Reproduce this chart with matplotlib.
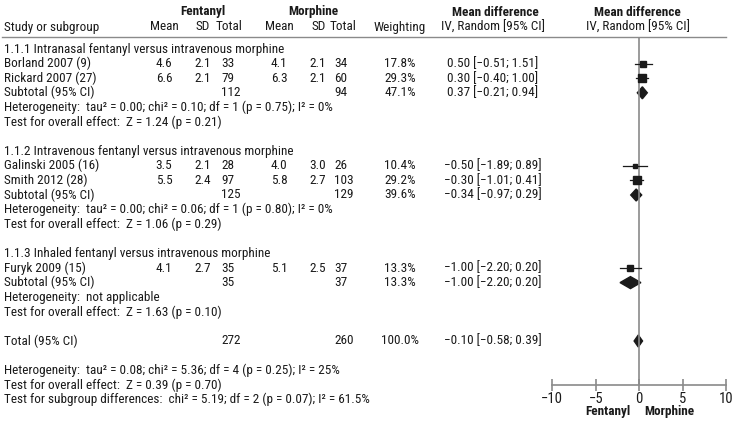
import matplotlib
matplotlib.use("Agg")
import matplotlib.pyplot as plt
from matplotlib import font_manager
from matplotlib.patches import Polygon

# 数据
studies = ['Borland 2007 (9)', 'Rickard 2007 (27)', 'Galinski 2005 (16)',
           'Smith 2012 (28)', 'Furyk 2009 (15)']
study_group = [0, 0, 1, 1, 2]
fent_mean = [4.6, 6.6, 3.5, 5.5, 4.1]
fent_sd = [2.1, 2.1, 2.1, 2.4, 2.7]
fent_n = [33, 79, 28, 97, 35]
morph_mean = [4.1, 6.3, 4.0, 5.8, 5.1]
morph_sd = [2.1, 2.1, 3.0, 2.7, 2.5]
morph_n = [34, 60, 26, 103, 37]
weights = [17.8, 29.3, 10.4, 29.2, 13.3]
md = [0.50, 0.30, -0.50, -0.30, -1.00]
md_lo = [-0.51, -0.40, -1.89, -1.01, -2.20]
md_hi = [1.51, 1.00, 0.89, 0.41, 0.20]

group_titles = ['1.1.1 Intranasal fentanyl versus intravenous morphine',
                '1.1.2 Intravenous fentanyl versus intravenous morphine',
                '1.1.3 Inhaled fentanyl versus intravenous morphine']
sub_fent_n = [112, 125, 35]
sub_morph_n = [94, 129, 37]
sub_weights = [47.1, 39.6, 13.3]
sub_md = [0.37, -0.34, -1.00]
sub_lo = [-0.21, -0.97, -2.20]
sub_hi = [0.94, 0.29, 0.20]
sub_het = ['Heterogeneity:  tau² = 0.00; chi² = 0.10; df = 1 (p = 0.75); I² = 0%',
           'Heterogeneity:  tau² = 0.00; chi² = 0.06; df = 1 (p = 0.80); I² = 0%',
           'Heterogeneity:  not applicable']
sub_test = ['Test for overall effect:  Z = 1.24 (p = 0.21)',
            'Test for overall effect:  Z = 1.06 (p = 0.29)',
            'Test for overall effect:  Z = 1.63 (p = 0.10)']

total_fent_n = 272
total_morph_n = 260
total_weight = 100.0
total_md = -0.10
total_lo = -0.58
total_hi = 0.39
total_notes = ['Heterogeneity:  tau² = 0.08; chi² = 5.36; df = 4 (p = 0.25); I² = 25%',
               'Test for overall effect:  Z = 0.39 (p = 0.70)',
               'Test for subgroup differences:  chi² = 5.19; df = 2 (p = 0.07); I² = 61.5%']

x_ticks = [-10, -5, 0, 5, 10]

# 字体: 优先用窄体
fonts = font_manager.fontManager.ttflist
names = {f.name for f in fonts}
main_font = 'Liberation Sans'
stretch = 'normal'
for cand in ['Liberation Sans Narrow', 'Roboto Condensed', 'Open Sans Condensed']:
    if cand in names:
        main_font = cand
        break
else:
    if any(f.name == 'DejaVu Sans' and f.stretch == 'condensed' for f in fonts):
        main_font = 'DejaVu Sans'
        stretch = 'condensed'
plt.rcParams['font.family'] = [main_font, 'DejaVu Sans']
plt.rcParams['font.stretch'] = stretch

TXT = '#1a1a1a'
GREY = '#8a8a8a'

fig = plt.figure(figsize=(7.36, 4.24), dpi=100)

# 按参考图中一行文字的宽度调字号
probe = fig.text(0, 0, sub_het[0], fontsize=9)
w = probe.get_window_extent(renderer=fig.canvas.get_renderer()).width
probe.remove()
fs = 9 * 330.0 / w
plt.rcParams['font.size'] = fs


def fmt(v):
    return ('%.2f' % v).replace('-', '\u2212')


def ci_text(m, lo, hi):
    return '%s [%s; %s]' % (fmt(m), fmt(lo), fmt(hi))


ax = fig.add_axes([0, 0, 1, 1])
ax.set_xlim(0, 736)
ax.set_ylim(424, 0)
ax.axis('off')


def put(x, y, s, ha='left', **kw):
    ax.text(x, y, s, ha=ha, va='center', color=TXT, fontsize=fs, **kw)


# 森林图坐标轴
x_left, x_right = 552.3, 726.0
y_top, y_axis = 37.0, 385.0
ax2 = fig.add_axes([x_left / 736, (424 - y_axis) / 424,
                    (x_right - x_left) / 736, (y_axis - y_top) / 424])
ax2.set_xlim(-10, 10)
ax2.set_ylim(y_axis, y_top)
ax2.patch.set_visible(False)
for s in ['top', 'left', 'right']:
    ax2.spines[s].set_visible(False)
ax2.spines['bottom'].set_color(GREY)
ax2.spines['bottom'].set_linewidth(1.2)
ax2.set_yticks([])
ax2.set_xticks(x_ticks)
ax2.set_xticklabels([str(t).replace('-', '\u2212') for t in x_ticks], color=TXT)
ax2.tick_params(axis='x', direction='inout', length=8, width=1.2, color=GREY, pad=1,
                labelsize=fs * 1.1)
ax2.axvline(0, color=GREY, lw=1.2)

# 表头
ax.plot([2, 726], [37, 37], color=GREY, lw=1.0)
put(203, 12, 'Fentanyl', ha='center', weight='bold')
put(313, 12, 'Morphine', ha='center', weight='bold')
put(495, 12, 'Mean difference', ha='center', weight='bold')
put(637.7, 12, 'Mean difference', ha='center', weight='bold')
put(4, 27, 'Study or subgroup')
put(164, 27, 'Mean', ha='center')
put(203, 27, 'SD', ha='center')
put(216, 27, 'Total')
put(279, 27, 'Mean', ha='center')
put(319, 27, 'SD', ha='center')
put(330, 27, 'Total')
put(400, 27, 'Weighting', ha='center')
put(493, 27, 'IV, Random [95% CI]', ha='center')
put(637.7, 27, 'IV, Random [95% CI]', ha='center')

y0 = 49.0
pitch = 14.6


def row_y(i):
    return y0 + i * pitch


def diamond(m, lo, hi, y):
    h = 6.0
    ax2.add_patch(Polygon([(lo, y), (m, y - h), (hi, y), (m, y + h)],
                          closed=True, facecolor=TXT, edgecolor=TXT, lw=1.0))


r = 0
for g in range(3):
    put(4, row_y(r), group_titles[g])
    r += 1
    for i in range(len(studies)):
        if study_group[i] != g:
            continue
        y = row_y(r)
        put(4, y, studies[i])
        put(164, y, '%.1f' % fent_mean[i], ha='center')
        put(203, y, '%.1f' % fent_sd[i], ha='center')
        put(221, y, str(fent_n[i]))
        put(279, y, '%.1f' % morph_mean[i], ha='center')
        put(318, y, '%.1f' % morph_sd[i], ha='center')
        put(334, y, str(morph_n[i]))
        put(400, y, '%.1f%%' % weights[i], ha='center')
        put(493, y, ci_text(md[i], md_lo[i], md_hi[i]), ha='center')
        # 可信区间和方块
        ax2.plot([md_lo[i], md_hi[i]], [y, y], color=TXT, lw=0.9)
        ax2.plot(md[i], y, 's', color=TXT, ms=1.0 * weights[i] ** 0.5)
        r += 1
    y = row_y(r)
    put(4, y, 'Subtotal (95% CI)')
    put(221, y, str(sub_fent_n[g]))
    put(334, y, str(sub_morph_n[g]))
    put(400, y, '%.1f%%' % sub_weights[g], ha='center')
    put(493, y, ci_text(sub_md[g], sub_lo[g], sub_hi[g]), ha='center')
    diamond(sub_md[g], sub_lo[g], sub_hi[g], y)
    r += 1
    put(4, row_y(r), sub_het[g])
    r += 1
    put(4, row_y(r), sub_test[g])
    r += 2

y = row_y(r)
put(4, y, 'Total (95% CI)')
put(221, y, str(total_fent_n))
put(334, y, str(total_morph_n))
put(400, y, '%.1f%%' % total_weight, ha='center')
put(493, y, ci_text(total_md, total_lo, total_hi), ha='center')
diamond(total_md, total_lo, total_hi, y)
r += 2
for note in total_notes:
    put(4, row_y(r), note)
    r += 1

put(631, 412, 'Fentanyl', ha='right', weight='bold')
put(644, 412, 'Morphine', weight='bold')

fig.savefig('out.png', dpi=100)
